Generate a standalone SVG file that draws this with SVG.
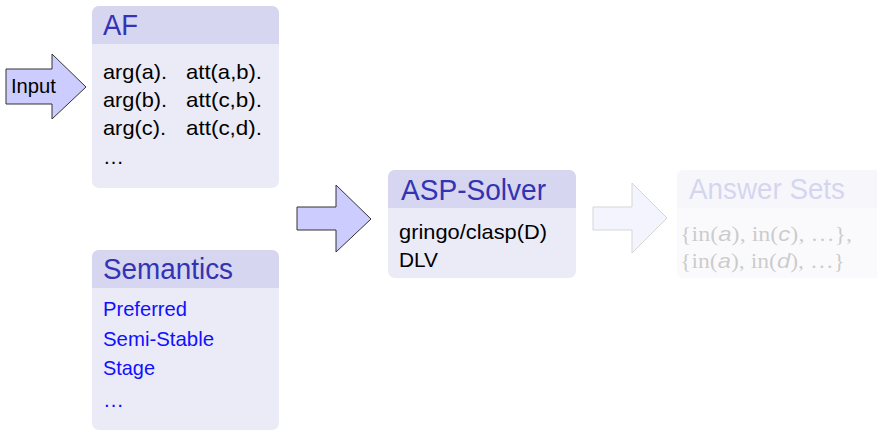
<svg xmlns="http://www.w3.org/2000/svg" width="877" height="430" viewBox="0 0 877 430">
  <defs>
    <style>
      .blk-body { fill: #ebebf7; }
      .blk-head { fill: #d6d6f0; }
      .title { font-family: "Liberation Sans", Arial, sans-serif; font-size: 29px; fill: #3333b3; }
      .body { font-family: "Liberation Sans", Arial, sans-serif; font-size: 21px; fill: #000000; }
      .link { fill: #1010ff; }
      .math { font-family: "Liberation Serif", "Times New Roman", serif; font-size: 21px; fill: #000000; }
      .math .v { font-family: "Liberation Sans", Arial, sans-serif; font-style: italic; }
      .arrow { fill: #ccccff; stroke: #333333; stroke-width: 1; stroke-linejoin: miter; }
      .faded { opacity: 0.2; }
    </style>
    <clipPath id="clip-af"><rect x="92" y="6" width="187" height="182" rx="7"/></clipPath>
    <clipPath id="clip-sem"><rect x="92" y="250" width="187" height="180" rx="7"/></clipPath>
    <clipPath id="clip-asp"><rect x="388" y="170" width="188" height="108" rx="7"/></clipPath>
    <clipPath id="clip-ans"><rect x="677" y="170" width="207" height="108" rx="7"/></clipPath>
  </defs>

  <!-- block arrows -->
  <g id="connectors">
    <g id="arrow-input">
      <polygon class="arrow" points="6,69 52,69 52,54 86,87 52,119 52,104 6,104"/>
      <text class="body" x="11" y="93" font-size="18" textLength="45" lengthAdjust="spacingAndGlyphs">Input</text>
    </g>
    <polygon id="arrow-solver" class="arrow" points="297,207 336,207 336,185 371,219 336,252 336,230 297,230"/>
    <polygon id="arrow-answers" class="arrow faded" points="593,207 632,207 632,183 667,218 632,253 632,230 593,230"/>
  </g>

  <!-- AF block -->
  <g id="node-af">
    <g clip-path="url(#clip-af)">
      <rect class="blk-body" x="92" y="6" width="187" height="182"/>
      <rect class="blk-head" x="92" y="6" width="187" height="38"/>
    </g>
    <text class="title" x="103" y="35" textLength="35" lengthAdjust="spacingAndGlyphs">AF</text>
    <text class="body" x="103" y="79" textLength="64" lengthAdjust="spacingAndGlyphs">arg(a).</text>
    <text class="body" x="186" y="79" textLength="76" lengthAdjust="spacingAndGlyphs">att(a,b).</text>
    <text class="body" x="103" y="107" textLength="64" lengthAdjust="spacingAndGlyphs">arg(b).</text>
    <text class="body" x="186" y="107" textLength="76" lengthAdjust="spacingAndGlyphs">att(c,b).</text>
    <text class="body" x="103" y="135" textLength="63" lengthAdjust="spacingAndGlyphs">arg(c).</text>
    <text class="body" x="186" y="135" textLength="76" lengthAdjust="spacingAndGlyphs">att(c,d).</text>
    <text class="body" x="103" y="164">…</text>
  </g>

  <!-- Semantics block -->
  <g id="node-semantics">
    <g clip-path="url(#clip-sem)">
      <rect class="blk-body" x="92" y="250" width="187" height="180"/>
      <rect class="blk-head" x="92" y="250" width="187" height="38"/>
    </g>
    <text class="title" x="103" y="279" textLength="130" lengthAdjust="spacingAndGlyphs">Semantics</text>
    <text class="body link" x="103" y="316" textLength="84" lengthAdjust="spacingAndGlyphs">Preferred</text>
    <text class="body link" x="103" y="346" textLength="111" lengthAdjust="spacingAndGlyphs">Semi-Stable</text>
    <text class="body link" x="103" y="375" textLength="52" lengthAdjust="spacingAndGlyphs">Stage</text>
    <text class="body link" x="103" y="407">…</text>
  </g>

  <!-- ASP-Solver block -->
  <g id="node-asp">
    <g clip-path="url(#clip-asp)">
      <rect class="blk-body" x="388" y="170" width="188" height="108"/>
      <rect class="blk-head" x="388" y="170" width="188" height="38"/>
    </g>
    <text class="title" x="401" y="200" textLength="145" lengthAdjust="spacingAndGlyphs">ASP-Solver</text>
    <text class="body" x="399" y="239" textLength="148" lengthAdjust="spacingAndGlyphs">gringo/clasp(D)</text>
    <text class="body" x="399" y="267" textLength="39" lengthAdjust="spacingAndGlyphs">DLV</text>
  </g>

  <!-- Answer Sets block (faded) -->
  <g id="node-answers" class="faded">
    <g clip-path="url(#clip-ans)">
      <rect class="blk-body" x="677" y="170" width="207" height="108"/>
      <rect class="blk-head" x="677" y="170" width="207" height="38"/>
    </g>
    <text class="title" x="689" y="199" textLength="156" lengthAdjust="spacingAndGlyphs">Answer Sets</text>
    <text class="math" x="680" y="241" textLength="172" lengthAdjust="spacingAndGlyphs">{in(<tspan class="v">a</tspan>), in(<tspan class="v">c</tspan>), …},</text>
    <text class="math" x="680" y="268" textLength="165" lengthAdjust="spacingAndGlyphs">{in(<tspan class="v">a</tspan>), in(<tspan class="v">d</tspan>), …}</text>
  </g>
</svg>
